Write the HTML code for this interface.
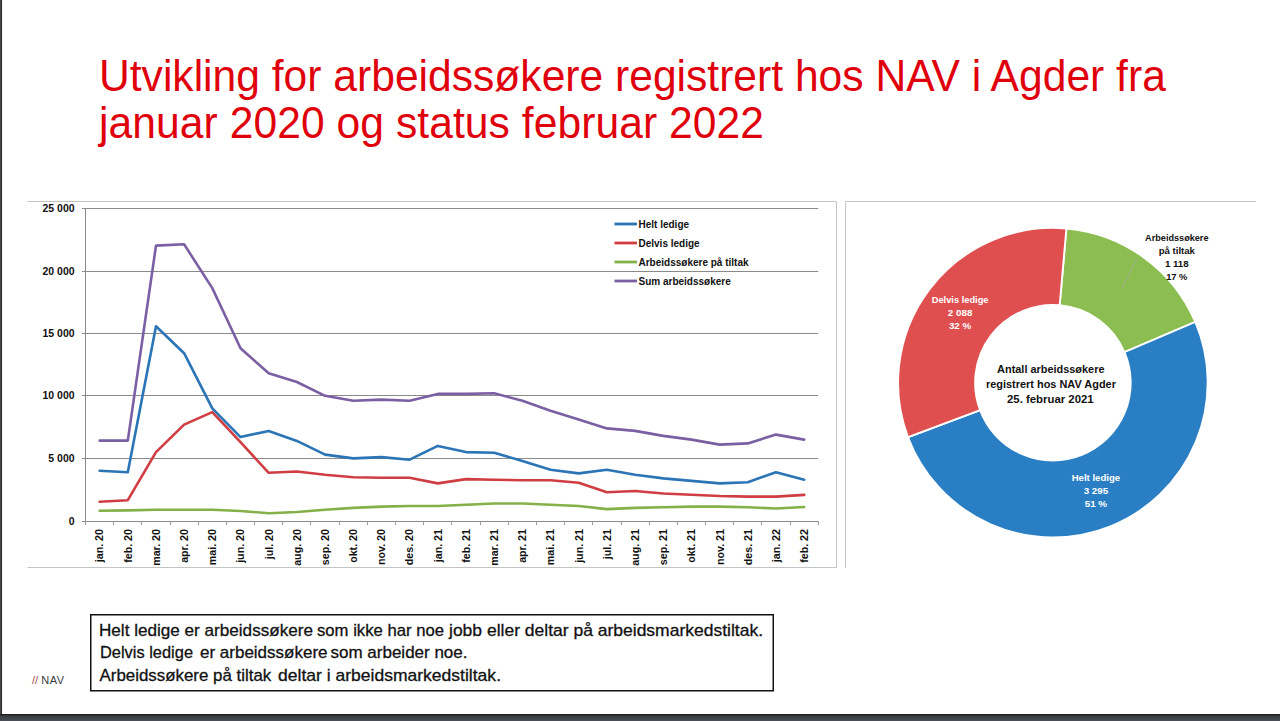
<!DOCTYPE html>
<html><head><meta charset="utf-8"><style>
html,body{margin:0;padding:0;}
body{width:1280px;height:721px;position:relative;overflow:hidden;background:#fff;font-family:"Liberation Sans",sans-serif;}
.lb{position:absolute;left:0;top:0;width:3px;height:721px;background:linear-gradient(90deg,#434747 0,#434747 1px,#2b2f2f 1px,#2b2f2f 2px,#f2f2f2 2px);}
.bb{position:absolute;left:0;top:714px;width:1280px;height:7px;background:linear-gradient(#202020 0,#202020 1px,#303234 1px,#303234 2px,#393c3f 2px,#393c3f 3px,#404447 3px,#404447 4px,#3e444c 4px,#3e444c 5px,#454950 5px,#454950 6px,#4a4d55 6px);}
.t1{position:absolute;left:99px;margin:0;font-weight:normal;font-size:42.6px;line-height:50px;height:50px;color:#e0000c;white-space:nowrap;transform:scaleY(1.03);transform-origin:0 0;}
svg{position:absolute;left:0;top:0;}
.ax{font-family:"Liberation Sans",sans-serif;font-weight:bold;font-size:10px;fill:#111;}
.pl{font-family:"Liberation Sans",sans-serif;font-weight:bold;font-size:9.7px;fill:#111;}
.plw{font-family:"Liberation Sans",sans-serif;font-weight:bold;font-size:9.8px;fill:#fff;}
.ct{font-family:"Liberation Sans",sans-serif;font-weight:bold;font-size:11.8px;fill:#111;}
.nt{font-family:"Liberation Sans",sans-serif;font-size:16.6px;fill:#111;stroke:#111;stroke-width:0.3px;}
.nav{font-family:"Liberation Sans",sans-serif;font-size:11px;}
</style></head><body>
<div class="lb"></div>
<div class="t1" style="top:50px">Utvikling for arbeidssøkere registrert hos NAV i Agder fra</div>
<div class="t1" style="top:96.6px;letter-spacing:0.06px">januar 2020 og status februar 2022</div>
<svg width="1280" height="721" viewBox="0 0 1280 721">
<path d="M27.5 201.5H836.5V567.5H27.5" fill="none" stroke="#c4c4c4" stroke-width="1"/>
<path d="M1256 201.5H845.5V568" fill="none" stroke="#c4c4c4" stroke-width="1"/>
<line x1="82" y1="521.5" x2="818.3" y2="521.5" stroke="#8a8a8a" stroke-width="1"/>
<line x1="82" y1="458.5" x2="818.3" y2="458.5" stroke="#8a8a8a" stroke-width="1"/>
<line x1="82" y1="395.5" x2="818.3" y2="395.5" stroke="#8a8a8a" stroke-width="1"/>
<line x1="82" y1="333.5" x2="818.3" y2="333.5" stroke="#8a8a8a" stroke-width="1"/>
<line x1="82" y1="271.5" x2="818.3" y2="271.5" stroke="#8a8a8a" stroke-width="1"/>
<line x1="82" y1="208.5" x2="818.3" y2="208.5" stroke="#8a8a8a" stroke-width="1"/>
<line x1="85.5" y1="208.0" x2="85.5" y2="521.0" stroke="#8a8a8a" stroke-width="1"/>
<line x1="85.5" y1="521.0" x2="85.5" y2="525.0" stroke="#9a9a9a" stroke-width="1"/>
<line x1="113.5" y1="521.0" x2="113.5" y2="525.0" stroke="#9a9a9a" stroke-width="1"/>
<line x1="141.5" y1="521.0" x2="141.5" y2="525.0" stroke="#9a9a9a" stroke-width="1"/>
<line x1="170.5" y1="521.0" x2="170.5" y2="525.0" stroke="#9a9a9a" stroke-width="1"/>
<line x1="198.5" y1="521.0" x2="198.5" y2="525.0" stroke="#9a9a9a" stroke-width="1"/>
<line x1="226.5" y1="521.0" x2="226.5" y2="525.0" stroke="#9a9a9a" stroke-width="1"/>
<line x1="254.5" y1="521.0" x2="254.5" y2="525.0" stroke="#9a9a9a" stroke-width="1"/>
<line x1="282.5" y1="521.0" x2="282.5" y2="525.0" stroke="#9a9a9a" stroke-width="1"/>
<line x1="310.5" y1="521.0" x2="310.5" y2="525.0" stroke="#9a9a9a" stroke-width="1"/>
<line x1="339.5" y1="521.0" x2="339.5" y2="525.0" stroke="#9a9a9a" stroke-width="1"/>
<line x1="367.5" y1="521.0" x2="367.5" y2="525.0" stroke="#9a9a9a" stroke-width="1"/>
<line x1="395.5" y1="521.0" x2="395.5" y2="525.0" stroke="#9a9a9a" stroke-width="1"/>
<line x1="423.5" y1="521.0" x2="423.5" y2="525.0" stroke="#9a9a9a" stroke-width="1"/>
<line x1="451.5" y1="521.0" x2="451.5" y2="525.0" stroke="#9a9a9a" stroke-width="1"/>
<line x1="480.5" y1="521.0" x2="480.5" y2="525.0" stroke="#9a9a9a" stroke-width="1"/>
<line x1="508.5" y1="521.0" x2="508.5" y2="525.0" stroke="#9a9a9a" stroke-width="1"/>
<line x1="536.5" y1="521.0" x2="536.5" y2="525.0" stroke="#9a9a9a" stroke-width="1"/>
<line x1="564.5" y1="521.0" x2="564.5" y2="525.0" stroke="#9a9a9a" stroke-width="1"/>
<line x1="592.5" y1="521.0" x2="592.5" y2="525.0" stroke="#9a9a9a" stroke-width="1"/>
<line x1="621.5" y1="521.0" x2="621.5" y2="525.0" stroke="#9a9a9a" stroke-width="1"/>
<line x1="649.5" y1="521.0" x2="649.5" y2="525.0" stroke="#9a9a9a" stroke-width="1"/>
<line x1="677.5" y1="521.0" x2="677.5" y2="525.0" stroke="#9a9a9a" stroke-width="1"/>
<line x1="705.5" y1="521.0" x2="705.5" y2="525.0" stroke="#9a9a9a" stroke-width="1"/>
<line x1="733.5" y1="521.0" x2="733.5" y2="525.0" stroke="#9a9a9a" stroke-width="1"/>
<line x1="761.5" y1="521.0" x2="761.5" y2="525.0" stroke="#9a9a9a" stroke-width="1"/>
<line x1="790.5" y1="521.0" x2="790.5" y2="525.0" stroke="#9a9a9a" stroke-width="1"/>
<line x1="818.5" y1="521.0" x2="818.5" y2="525.0" stroke="#9a9a9a" stroke-width="1"/>
<text transform="translate(74.6,525.3) scale(1.05,1)" text-anchor="end" class="ax">0</text>
<text transform="translate(74.6,462.3) scale(1.05,1)" text-anchor="end" class="ax">5 000</text>
<text transform="translate(74.6,399.3) scale(1.05,1)" text-anchor="end" class="ax">10 000</text>
<text transform="translate(74.6,337.3) scale(1.05,1)" text-anchor="end" class="ax">15 000</text>
<text transform="translate(74.6,275.3) scale(1.05,1)" text-anchor="end" class="ax">20 000</text>
<text transform="translate(74.6,212.3) scale(1.05,1)" text-anchor="end" class="ax">25 000</text>
<text transform="translate(103.4,529) rotate(-90) scale(1.07,1)" text-anchor="end" class="ax">jan. 20</text>
<text transform="translate(131.6,529) rotate(-90) scale(1.07,1)" text-anchor="end" class="ax">feb. 20</text>
<text transform="translate(159.8,529) rotate(-90) scale(1.07,1)" text-anchor="end" class="ax">mar. 20</text>
<text transform="translate(187.9,529) rotate(-90) scale(1.07,1)" text-anchor="end" class="ax">apr. 20</text>
<text transform="translate(216.1,529) rotate(-90) scale(1.07,1)" text-anchor="end" class="ax">mai. 20</text>
<text transform="translate(244.3,529) rotate(-90) scale(1.07,1)" text-anchor="end" class="ax">jun. 20</text>
<text transform="translate(272.5,529) rotate(-90) scale(1.07,1)" text-anchor="end" class="ax">jul. 20</text>
<text transform="translate(300.7,529) rotate(-90) scale(1.07,1)" text-anchor="end" class="ax">aug. 20</text>
<text transform="translate(328.9,529) rotate(-90) scale(1.07,1)" text-anchor="end" class="ax">sep. 20</text>
<text transform="translate(357.1,529) rotate(-90) scale(1.07,1)" text-anchor="end" class="ax">okt. 20</text>
<text transform="translate(385.2,529) rotate(-90) scale(1.07,1)" text-anchor="end" class="ax">nov. 20</text>
<text transform="translate(413.4,529) rotate(-90) scale(1.07,1)" text-anchor="end" class="ax">des. 20</text>
<text transform="translate(441.6,529) rotate(-90) scale(1.07,1)" text-anchor="end" class="ax">jan. 21</text>
<text transform="translate(469.8,529) rotate(-90) scale(1.07,1)" text-anchor="end" class="ax">feb. 21</text>
<text transform="translate(498.0,529) rotate(-90) scale(1.07,1)" text-anchor="end" class="ax">mar. 21</text>
<text transform="translate(526.2,529) rotate(-90) scale(1.07,1)" text-anchor="end" class="ax">apr. 21</text>
<text transform="translate(554.3,529) rotate(-90) scale(1.07,1)" text-anchor="end" class="ax">mai. 21</text>
<text transform="translate(582.5,529) rotate(-90) scale(1.07,1)" text-anchor="end" class="ax">jun. 21</text>
<text transform="translate(610.7,529) rotate(-90) scale(1.07,1)" text-anchor="end" class="ax">jul. 21</text>
<text transform="translate(638.9,529) rotate(-90) scale(1.07,1)" text-anchor="end" class="ax">aug. 21</text>
<text transform="translate(667.1,529) rotate(-90) scale(1.07,1)" text-anchor="end" class="ax">sep. 21</text>
<text transform="translate(695.3,529) rotate(-90) scale(1.07,1)" text-anchor="end" class="ax">okt. 21</text>
<text transform="translate(723.5,529) rotate(-90) scale(1.07,1)" text-anchor="end" class="ax">nov. 21</text>
<text transform="translate(751.6,529) rotate(-90) scale(1.07,1)" text-anchor="end" class="ax">des. 21</text>
<text transform="translate(779.8,529) rotate(-90) scale(1.07,1)" text-anchor="end" class="ax">jan. 22</text>
<text transform="translate(808.0,529) rotate(-90) scale(1.07,1)" text-anchor="end" class="ax">feb. 22</text>
<polyline points="99.6,510.8 127.8,510.4 156.0,509.7 184.1,509.7 212.3,509.7 240.5,511.0 268.7,513.2 296.9,512.0 325.1,509.7 353.3,507.9 381.4,506.6 409.6,506.0 437.8,506.0 466.0,504.7 494.2,503.5 522.4,503.5 550.5,504.7 578.7,506.0 606.9,509.1 635.1,507.9 663.3,507.2 691.5,506.6 719.7,506.6 747.8,507.2 776.0,508.5 804.2,507.0" fill="none" stroke="#84b048" stroke-width="2.6" stroke-linejoin="round" stroke-linecap="round"/>
<polyline points="99.6,501.7 127.8,500.2 156.0,452.1 184.1,424.6 212.3,412.1 240.5,442.1 268.7,472.8 296.9,471.5 325.1,474.7 353.3,477.2 381.4,477.8 409.6,477.8 437.8,483.4 466.0,479.1 494.2,479.7 522.4,480.3 550.5,480.3 578.7,482.8 606.9,492.2 635.1,491.0 663.3,493.5 691.5,494.7 719.7,496.0 747.8,496.6 776.0,496.6 804.2,494.9" fill="none" stroke="#d03d42" stroke-width="2.6" stroke-linejoin="round" stroke-linecap="round"/>
<polyline points="99.6,470.8 127.8,472.2 156.0,326.3 184.1,353.2 212.3,408.3 240.5,437.1 268.7,430.9 296.9,440.9 325.1,454.6 353.3,458.4 381.4,457.1 409.6,459.7 437.8,445.9 466.0,452.1 494.2,452.8 522.4,460.9 550.5,469.7 578.7,473.4 606.9,469.7 635.1,474.7 663.3,478.4 691.5,480.9 719.7,483.4 747.8,482.2 776.0,472.2 804.2,479.7" fill="none" stroke="#2b74b6" stroke-width="2.6" stroke-linejoin="round" stroke-linecap="round"/>
<polyline points="99.6,440.6 127.8,440.6 156.0,245.6 184.1,244.3 212.3,288.1 240.5,348.2 268.7,373.3 296.9,382.0 325.1,395.8 353.3,400.8 381.4,399.6 409.6,400.8 437.8,393.9 466.0,393.9 494.2,393.3 522.4,400.8 550.5,410.8 578.7,419.6 606.9,428.4 635.1,430.9 663.3,435.9 691.5,439.6 719.7,444.6 747.8,443.4 776.0,434.6 804.2,439.6" fill="none" stroke="#7b5fa3" stroke-width="2.6" stroke-linejoin="round" stroke-linecap="round"/>
<line x1="614.5" y1="224" x2="637" y2="224" stroke="#2b74b6" stroke-width="2.8"/>
<text x="638.5" y="227.6" class="ax">Helt ledige</text>
<line x1="614.5" y1="243" x2="637" y2="243" stroke="#d03d42" stroke-width="2.8"/>
<text x="638.5" y="246.6" class="ax">Delvis ledige</text>
<line x1="614.5" y1="262" x2="637" y2="262" stroke="#84b048" stroke-width="2.8"/>
<text x="638.5" y="265.6" class="ax">Arbeidssøkere på tiltak</text>
<line x1="614.5" y1="281" x2="637" y2="281" stroke="#7b5fa3" stroke-width="2.8"/>
<text x="638.5" y="284.6" class="ax">Sum arbeidssøkere</text>
<path d="M1066.39 228.49A154.8 154.8 0 0 1 1195.30 321.99L1124.47 352.19A77.8 77.8 0 0 0 1059.68 305.20Z" fill="#8bbd50" stroke="#fff" stroke-width="1.9"/>
<path d="M1195.30 321.99A154.8 154.8 0 1 1 908.02 437.23L980.09 410.11A77.8 77.8 0 1 0 1124.47 352.19Z" fill="#2a7fc4" stroke="#fff" stroke-width="1.9"/>
<path d="M908.02 437.23A154.8 154.8 0 0 1 1066.39 228.49L1059.68 305.20A77.8 77.8 0 0 0 980.09 410.11Z" fill="#df4f4f" stroke="#fff" stroke-width="1.9"/>
<line x1="1137" y1="259" x2="1122" y2="288" stroke="#a9a9a9" stroke-width="0.8"/>
<text x="1176.8" y="240.8" text-anchor="middle" class="pl" textLength="63.4" lengthAdjust="spacingAndGlyphs">Arbeidssøkere</text>
<text x="1176.8" y="253.8" text-anchor="middle" class="pl" textLength="36.3" lengthAdjust="spacingAndGlyphs">på tiltak</text>
<text x="1176.8" y="266.7" text-anchor="middle" class="pl">1 118</text>
<text x="1176.8" y="279.6" text-anchor="middle" class="pl" textLength="21.2" lengthAdjust="spacingAndGlyphs">17 %</text>
<text x="960.1" y="302.5" text-anchor="middle" class="plw" textLength="56.8" lengthAdjust="spacingAndGlyphs">Delvis ledige</text>
<text x="960.1" y="315.5" text-anchor="middle" class="plw">2 088</text>
<text x="960.1" y="328.5" text-anchor="middle" class="plw">32 %</text>
<text x="1095.9" y="481.2" text-anchor="middle" class="plw" textLength="48.4" lengthAdjust="spacingAndGlyphs">Helt ledige</text>
<text x="1095.9" y="494.2" text-anchor="middle" class="plw">3 295</text>
<text x="1095.9" y="507.2" text-anchor="middle" class="plw">51 %</text>
<text x="997.1" y="372.8" textLength="107.4" lengthAdjust="spacingAndGlyphs" class="ct">Antall arbeidssøkere</text>
<text x="986" y="388.2" textLength="129.9" lengthAdjust="spacingAndGlyphs" class="ct">registrert hos NAV Agder</text>
<text x="1007" y="403.4" textLength="86.7" lengthAdjust="spacingAndGlyphs" class="ct">25. februar 2021</text>
<text x="99.0" y="635.9" textLength="214.0" lengthAdjust="spacingAndGlyphs" class="nt">Helt ledige er arbeidssøkere</text>
<text x="317.0" y="635.9" textLength="127.0" lengthAdjust="spacingAndGlyphs" class="nt">som ikke har noe</text>
<text x="449.0" y="635.9" textLength="314.0" lengthAdjust="spacingAndGlyphs" class="nt">jobb eller deltar på arbeidsmarkedstiltak.</text>
<text x="100.0" y="658.4" textLength="93.0" lengthAdjust="spacingAndGlyphs" class="nt">Delvis ledige</text>
<text x="200.0" y="658.4" textLength="127.5" lengthAdjust="spacingAndGlyphs" class="nt">er arbeidssøkere</text>
<text x="330.5" y="658.4" textLength="137.0" lengthAdjust="spacingAndGlyphs" class="nt">som arbeider noe.</text>
<text x="99.5" y="680.8" textLength="171.75" lengthAdjust="spacingAndGlyphs" class="nt">Arbeidssøkere på tiltak</text>
<text x="278.0" y="680.8" textLength="223.0" lengthAdjust="spacingAndGlyphs" class="nt">deltar i arbeidsmarkedstiltak.</text>
<rect x="90.75" y="614.75" width="682.5" height="76" fill="none" stroke="#111" stroke-width="1.5"/>
<text x="32" y="683.8" class="nav"><tspan fill="#9a4a4a">//</tspan><tspan dx="3" fill="#3a3a3a" letter-spacing="0.6">NAV</tspan></text>
</svg>
<div class="bb"></div>
</body></html>
